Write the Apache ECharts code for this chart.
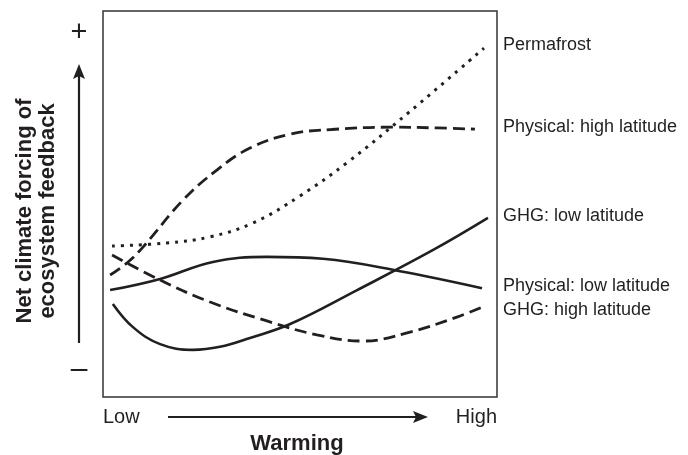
<!DOCTYPE html>
<html>
<head>
<meta charset="utf-8">
<script src="https://cdn.jsdelivr.net/npm/echarts@6/dist/echarts.min.js"></script>
<style>
  html, body { margin: 0; padding: 0; background: #fff; }
  #main { width: 688px; height: 455px; }
</style>
</head>
<body>
<div id="main"></div>
<script>
// warming (0 = low, 100 = high) vs net forcing (0 = most negative, 100 = most positive)
var seriesNames = ['Permafrost', 'Physical: high latitude', 'GHG: low latitude', 'Physical: low latitude', 'GHG: high latitude'];

var permafrost = [[2.3, 39.1], [16.2, 39.9], [27.2, 41.5], [38.1, 45.1], [50.0, 52.1], [62.2, 60.9],
  [77.7, 73.8], [96.7, 90.4]];
var physicalHigh = [[1.8, 31.6], [6.3, 34.9], [10.2, 38.9], [20.3, 51.0], [28.9, 58.8], [37.3, 64.5],
  [47.5, 68.1], [58.0, 69.3], [73.6, 69.9], [84.8, 69.7], [94.4, 69.4]];
var ghgLow = [[2.5, 24.1], [7.6, 18.1], [14.5, 13.7], [22.8, 12.2], [29.7, 13.0], [37.3, 15.3],
  [47.5, 18.9], [64.5, 27.7], [83.8, 38.1], [97.7, 46.4]];
var physicalLow = [[1.8, 27.7], [14.5, 30.6], [27.9, 35.0], [41.6, 36.3], [55.8, 35.8], [75.4, 32.6],
  [96.2, 28.2]];
var ghgHigh = [[2.3, 36.8], [14.5, 30.3], [27.2, 24.6], [41.6, 19.7], [54.3, 16.1], [66.0, 14.5],
  [77.2, 16.6], [89.8, 20.7], [97.0, 23.6]];

var lineColor = '#231f20';
var font = '"Liberation Sans", Arial, sans-serif';

function mkLine(name, data, dash, width) {
  return {
    name: name,
    type: 'line',
    data: data,
    smooth: 0.4,
    symbol: 'none',
    silent: true,
    lineStyle: { color: lineColor, width: width, type: dash, cap: 'butt' }
  };
}

var chart = echarts.init(document.getElementById('main'), null, { renderer: 'canvas' });

// label text on the right, next to the frame
var labelY = [46, 128, 217, 287, 311];
var labelGraphics = seriesNames.map(function (n, i) {
  return {
    type: 'text', left: 503, top: labelY[i] - 10,
    style: { text: n, font: '18px ' + font, fill: lineColor }
  };
});

var option = {
  animation: false,
  backgroundColor: '#fff',
  grid: {
    left: 103, right: 191, top: 11, bottom: 58,
    show: true, borderColor: '#333', borderWidth: 1.5, backgroundColor: 'transparent'
  },
  xAxis: { type: 'value', min: 0, max: 100, show: false },
  yAxis: { type: 'value', min: 0, max: 100, show: false },
  series: [
    mkLine(seriesNames[0], permafrost, [3, 6], 3),
    mkLine(seriesNames[1], physicalHigh, [12, 6], 2.8),
    mkLine(seriesNames[2], ghgLow, 'solid', 2.6),
    mkLine(seriesNames[3], physicalLow, 'solid', 2.6),
    mkLine(seriesNames[4], ghgHigh, [12, 6], 2.8)
  ],
  graphic: labelGraphics.concat([
    // y axis title
    {
      type: 'text', x: 36, y: 211, rotation: Math.PI / 2,
      style: {
        text: 'Net climate forcing of\necosystem feedback',
        font: 'bold 22px ' + font, fill: lineColor,
        align: 'center', verticalAlign: 'middle', lineHeight: 23
      }
    },
    { type: 'text', x: 79, y: 33, style: { text: '+', font: '29px ' + font, fill: lineColor, align: 'center', verticalAlign: 'middle' } },
    { type: 'text', x: 79, y: 370, style: { text: '\u2013', font: '30px ' + font, fill: lineColor, align: 'center', verticalAlign: 'middle' } },
    // vertical arrow
    { type: 'line', shape: { x1: 79, y1: 343, x2: 79, y2: 76 }, style: { stroke: lineColor, lineWidth: 2.2 } },
    { type: 'polygon', shape: { points: [[79, 64], [73, 79], [79, 76], [85, 79]] }, style: { fill: lineColor } },
    // x axis
    { type: 'text', x: 103, y: 417, style: { text: 'Low', font: '20px ' + font, fill: lineColor, verticalAlign: 'middle' } },
    { type: 'text', x: 497, y: 417, style: { text: 'High', font: '20px ' + font, fill: lineColor, align: 'right', verticalAlign: 'middle' } },
    { type: 'line', shape: { x1: 168, y1: 417, x2: 416, y2: 417 }, style: { stroke: lineColor, lineWidth: 2.2 } },
    { type: 'polygon', shape: { points: [[428, 417], [413, 411], [416, 417], [413, 423]] }, style: { fill: lineColor } },
    { type: 'text', x: 297, y: 444, style: { text: 'Warming', font: 'bold 22px ' + font, fill: lineColor, align: 'center', verticalAlign: 'middle' } }
  ])
};

chart.setOption(option);
</script>
</body>
</html>
